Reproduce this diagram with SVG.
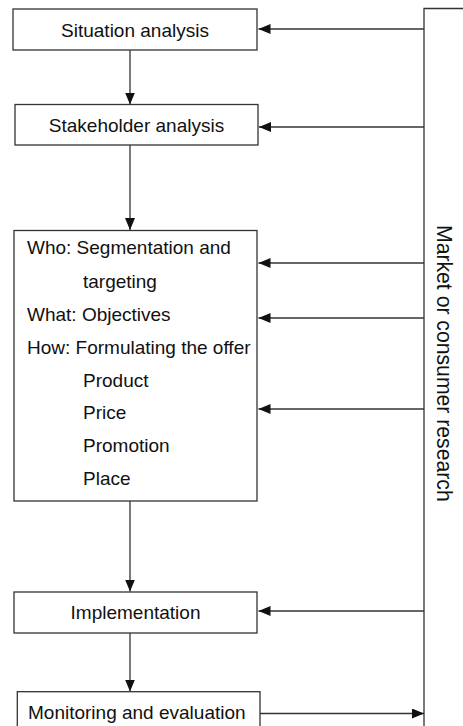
<svg xmlns="http://www.w3.org/2000/svg" width="463" height="726" viewBox="0 0 463 726">
  <style>
    .box { fill: #ffffff; stroke: #333333; stroke-width: 1.3; }
    .lbl { font-family: "Liberation Sans", Arial, sans-serif; font-size: 19px; fill: #111111; }
    .mid { text-anchor: middle; }
    .side { font-family: "Liberation Sans", Arial, sans-serif; font-size: 21.2px; fill: #111111; }
    .conn line, .conn path { stroke: #333333; stroke-width: 1.3; fill: none; }
    .arrow { marker-end: url(#head); }
  </style>
  <defs>
    <marker id="head" markerUnits="userSpaceOnUse" markerWidth="13" markerHeight="11" refX="12" refY="5" orient="auto">
      <path d="M0,0 L12,5 L0,10 z" fill="#111111"/>
    </marker>
  </defs>
  <rect width="463" height="726" fill="#ffffff"/>

  <!-- connectors -->
  <g id="connectors" class="conn">
    <!-- research bar on the right -->
    <path d="M463,8.5 H424 V730"/>
    <!-- main flow downwards -->
    <line class="arrow" x1="130" y1="50" x2="130" y2="104.5"/>
    <line class="arrow" x1="130" y1="145" x2="130" y2="230"/>
    <line class="arrow" x1="130" y1="501" x2="130" y2="591.5"/>
    <line class="arrow" x1="130" y1="633" x2="130" y2="691.5"/>
    <!-- feedback from research -->
    <line class="arrow" x1="424" y1="29" x2="258.5" y2="29"/>
    <line class="arrow" x1="424" y1="127" x2="259" y2="127"/>
    <line class="arrow" x1="424" y1="263" x2="258.5" y2="263"/>
    <line class="arrow" x1="424" y1="318" x2="258.5" y2="318"/>
    <line class="arrow" x1="424" y1="409" x2="258.5" y2="409"/>
    <line class="arrow" x1="424" y1="611" x2="258.5" y2="611"/>
    <!-- monitoring feeds research -->
    <line class="arrow" x1="258" y1="713.5" x2="424" y2="713.5"/>
  </g>

  <g id="situation">
    <rect class="box" x="13" y="9" width="244" height="41"/>
    <text class="lbl mid" x="135" y="36.5">Situation analysis</text>
  </g>

  <g id="stakeholder">
    <rect class="box" x="15" y="104.5" width="243" height="40.5"/>
    <text class="lbl mid" x="136.5" y="131.5">Stakeholder analysis</text>
  </g>

  <g id="planning">
    <rect class="box" x="14" y="230.5" width="243" height="270.5"/>
    <text class="lbl" x="27" y="254">Who: Segmentation and</text>
    <text class="lbl" x="83" y="288">targeting</text>
    <text class="lbl" x="27" y="321">What: Objectives</text>
    <text class="lbl" x="27" y="353.5">How: Formulating the offer</text>
    <text class="lbl" x="83" y="386.5">Product</text>
    <text class="lbl" x="83" y="419">Price</text>
    <text class="lbl" x="83" y="452">Promotion</text>
    <text class="lbl" x="83" y="484.5">Place</text>
  </g>

  <g id="implementation">
    <rect class="box" x="14" y="592" width="243" height="41"/>
    <text class="lbl mid" x="135.5" y="619">Implementation</text>
  </g>

  <g id="monitoring">
    <rect class="box" x="17.3" y="691.7" width="242.7" height="45"/>
    <text class="lbl" x="28" y="718.5">Monitoring and evaluation</text>
  </g>

  <g id="research">
    <text class="side" transform="translate(437,225) rotate(90)">Market or consumer research</text>
  </g>
</svg>
